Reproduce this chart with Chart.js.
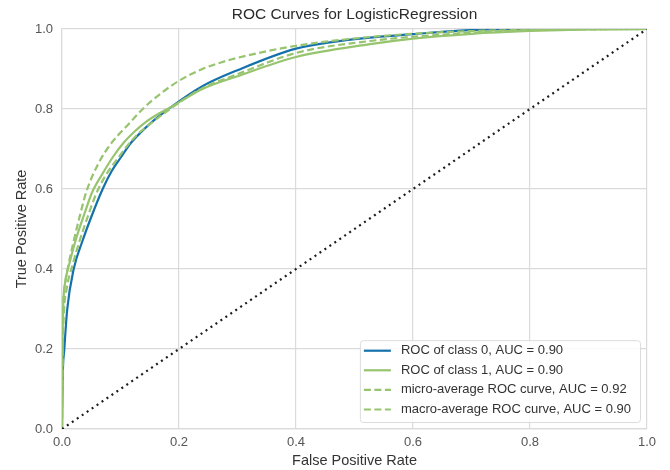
<!DOCTYPE html>
<html>
<head>
<meta charset="utf-8">
<title>ROC Curves for LogisticRegression</title>
<script src="https://cdn.jsdelivr.net/npm/chart.js@4/dist/chart.umd.min.js"></script>
<style>
  html, body { margin: 0; padding: 0; background: #fff; }
  canvas { display: block; }
</style>
</head>
<body>
<canvas id="roc" width="670" height="470"></canvas>
<script>
// ROC curve points (false positive rate, true positive rate) per series
const fprClass0 = [0, 0.001, 0.004, 0.009, 0.02, 0.035, 0.05, 0.0695, 0.085, 0.101, 0.116, 0.135, 0.154, 0.1875, 0.24, 0.30, 0.40, 0.49, 0.60, 0.68, 0.77, 1.0];
const tprClass0 = [0, 0.12, 0.2, 0.3, 0.4, 0.47, 0.53, 0.6, 0.645, 0.68, 0.712, 0.742, 0.768, 0.806, 0.857, 0.897, 0.951, 0.973, 0.987, 0.996, 1.0, 1.0];

const fprClass1 = [0, 0.0005, 0.002, 0.006, 0.0137, 0.025, 0.04, 0.051, 0.07, 0.087, 0.105, 0.125, 0.142, 0.165, 0.1875, 0.24, 0.30, 0.40, 0.5265, 0.60, 0.70, 0.80, 0.90, 1.0];
const tprClass1 = [0, 0.15, 0.3, 0.37, 0.42, 0.48, 0.545, 0.59, 0.64, 0.68, 0.715, 0.745, 0.766, 0.788, 0.806, 0.85, 0.882, 0.93, 0.962, 0.976, 0.988, 0.995, 0.999, 1.0];

const fprMicro = [0, 0.0005, 0.002, 0.005, 0.011, 0.02, 0.03, 0.042, 0.062, 0.082, 0.1157, 0.138, 0.17, 0.2017, 0.24, 0.273, 0.30, 0.40, 0.5265, 0.65, 0.80, 1.0];
const tprMicro = [0, 0.18, 0.3, 0.36, 0.41, 0.47, 0.53, 0.595, 0.663, 0.71, 0.765, 0.80, 0.84, 0.872, 0.9, 0.917, 0.928, 0.958, 0.98, 0.992, 0.998, 1.0];

const fprMacro = [0, 0.0005, 0.003, 0.008, 0.018, 0.03, 0.045, 0.059, 0.075, 0.0945, 0.11, 0.13, 0.15, 0.1875, 0.24, 0.30, 0.40, 0.5265, 0.68, 0.80, 1.0];
const tprMacro = [0, 0.13, 0.28, 0.35, 0.41, 0.47, 0.535, 0.59, 0.635, 0.675, 0.705, 0.738, 0.762, 0.803, 0.852, 0.887, 0.94, 0.97, 0.989, 0.997, 1.0];

// chance line
const fprChance = [0, 1];
const tprChance = [0, 1];

const seriesLabels = [
    'ROC of class 0, AUC = 0.90',
    'ROC of class 1, AUC = 0.90',
    'micro-average ROC curve, AUC = 0.92',
    'macro-average ROC curve, AUC = 0.90',
];

const tickValues = [0, 0.2, 0.4, 0.6, 0.8, 1.0];

const FONT = '"Liberation Sans", Arial, sans-serif';
const BLUE = '#1571ab';
const GREEN = '#97c46f';

const toPoints = (xs, ys) => xs.map((x, i) => ({ x: x, y: ys[i] }));

const data = {
    datasets: [{
        label: seriesLabels[0],
        data: toPoints(fprClass0, tprClass0),
        borderColor: BLUE,
        borderWidth: 2.2,
        cubicInterpolationMode: 'monotone',
        order: 4,
        inLegend: true,
    },
    {
        label: seriesLabels[1],
        data: toPoints(fprClass1, tprClass1),
        borderColor: GREEN,
        borderWidth: 2.2,
        cubicInterpolationMode: 'monotone',
        order: 3,
        inLegend: true,
    },
    {
        label: seriesLabels[2],
        data: toPoints(fprMicro, tprMicro),
        borderColor: GREEN,
        borderWidth: 2.2,
        borderDash: [7, 3.5],
        cubicInterpolationMode: 'monotone',
        order: 2,
        inLegend: true,
    },
    {
        label: seriesLabels[3],
        data: toPoints(fprMacro, tprMacro),
        borderColor: GREEN,
        borderWidth: 2.2,
        borderDash: [7, 3.5],
        cubicInterpolationMode: 'monotone',
        order: 1,
        inLegend: true,
    },
    {
        label: 'chance',
        data: toPoints(fprChance, tprChance),
        borderColor: '#1c1c1c',
        borderWidth: 2.2,
        borderDash: [2, 4],
        order: 0,
        inLegend: false,
    }]
};

// title centred over the plot area
const plotTitle = {
    id: 'plotTitle',
    afterDraw(chart) {
        const ctx = chart.ctx;
        const area = chart.chartArea;
        ctx.save();
        ctx.font = '15.5px ' + FONT;
        ctx.fillStyle = '#2b2b2b';
        ctx.textAlign = 'center';
        ctx.textBaseline = 'middle';
        ctx.fillText('ROC Curves for LogisticRegression', (area.left + area.right) / 2, 15);
        ctx.restore();
    }
};

// legend box in the lower right corner of the plot
const legendBox = {
    id: 'legendBox',
    afterDraw(chart) {
        const ctx = chart.ctx;
        const area = chart.chartArea;
        const items = chart.data.datasets.filter(d => d.inLegend);
        ctx.save();
        ctx.font = '13px ' + FONT;
        const rowH = 19.6;
        const textW = Math.max(...items.map(d => ctx.measureText(d.label).width));
        const boxW = 4 + 27 + 10 + textW + 9;
        const boxH = 10.5 + (items.length - 1) * rowH + 12.5;
        const x = area.right - 7 - boxW;
        const y = area.bottom - 7 - boxH;

        ctx.beginPath();
        ctx.roundRect(x + 0.5, y + 0.5, boxW, boxH, 3);
        ctx.fillStyle = 'rgba(255,255,255,0.85)';
        ctx.fill();
        ctx.strokeStyle = '#dcdcdc';
        ctx.lineWidth = 1;
        ctx.stroke();

        items.forEach((d, i) => {
            const cy = y + 10.5 + i * rowH;
            ctx.beginPath();
            ctx.setLineDash(d.borderDash || []);
            ctx.strokeStyle = d.borderColor;
            ctx.lineWidth = d.borderWidth;
            ctx.moveTo(x + 4, cy);
            ctx.lineTo(x + 31, cy);
            ctx.stroke();
            ctx.setLineDash([]);
            ctx.fillStyle = '#333';
            ctx.textAlign = 'left';
            ctx.textBaseline = 'middle';
            ctx.fillText(d.label, x + 41, cy);
        });
        ctx.restore();
    }
};

const gridColor = '#dadada';

const config = {
    type: 'line',
    data: data,
    options: {
        responsive: false,
        animation: false,
        devicePixelRatio: 1,
        layout: { padding: { top: 29, right: 23, left: 0, bottom: 0 } },
        elements: {
            point: { radius: 0 },
            line: { fill: false, borderCapStyle: 'butt' },
        },
        plugins: {
            legend: { display: false },
            title: { display: false },
            tooltip: { enabled: false },
        },
        scales: {
            x: {
                type: 'linear',
                min: 0,
                max: 1,
                afterFit: s => { s.height = 41; },
                afterBuildTicks: s => { s.ticks = tickValues.map(v => ({ value: v })); },
                grid: { color: gridColor, lineWidth: 1.2, drawTicks: false },
                border: { color: gridColor, width: 1.2 },
                ticks: {
                    padding: 6,
                    color: '#555',
                    font: { family: FONT, size: 13 },
                    maxRotation: 0,
                    callback: v => v.toFixed(1),
                },
                title: {
                    display: true,
                    text: 'False Positive Rate',
                    color: '#333',
                    font: { family: FONT, size: 14.5 },
                    padding: { top: 0, bottom: 0 },
                },
            },
            y: {
                type: 'linear',
                min: 0,
                max: 1,
                afterFit: s => { s.width = 62; },
                afterBuildTicks: s => { s.ticks = tickValues.map(v => ({ value: v })); },
                grid: { color: gridColor, lineWidth: 1.2, drawTicks: false },
                border: { color: gridColor, width: 1.2 },
                ticks: {
                    padding: 9,
                    color: '#555',
                    font: { family: FONT, size: 13 },
                    callback: v => v.toFixed(1),
                },
                title: {
                    display: true,
                    text: 'True Positive Rate',
                    color: '#333',
                    font: { family: FONT, size: 14.5 },
                    padding: { top: 13, bottom: 0 },
                },
            },
        },
    },
    plugins: [plotTitle, legendBox],
};

const rocChart = new Chart(
    document.getElementById('roc'),
    config
);
</script>
</body>
</html>
